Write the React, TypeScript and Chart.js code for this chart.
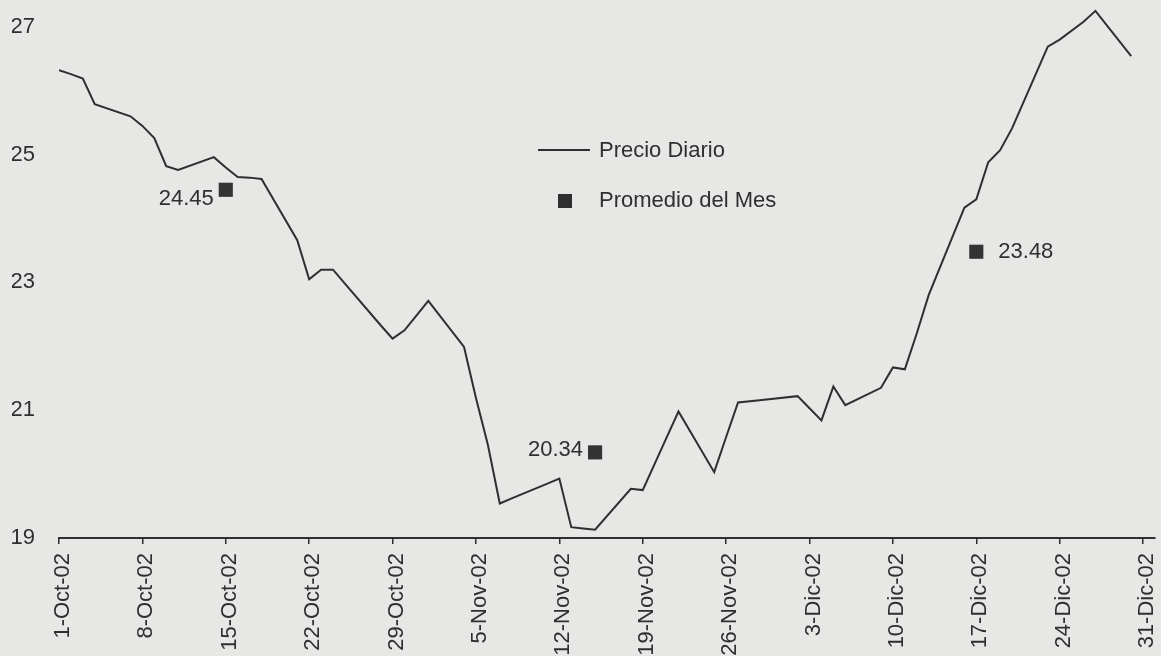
import React, { useEffect, useRef } from 'react';
import { Chart, registerables } from 'chart.js';

Chart.register(...registerables);

// ---- Data ----
const fechas: string[] = [
  '2002-10-01', '2002-10-02', '2002-10-03', '2002-10-04', '2002-10-07', '2002-10-08', '2002-10-09',
  '2002-10-10', '2002-10-11', '2002-10-14', '2002-10-15', '2002-10-16', '2002-10-17', '2002-10-18',
  '2002-10-21', '2002-10-22', '2002-10-23', '2002-10-24', '2002-10-25', '2002-10-28', '2002-10-29',
  '2002-10-30', '2002-10-31', '2002-11-01', '2002-11-04', '2002-11-05', '2002-11-06', '2002-11-07',
  '2002-11-08', '2002-11-11', '2002-11-12', '2002-11-13', '2002-11-14', '2002-11-15', '2002-11-18',
  '2002-11-19', '2002-11-20', '2002-11-21', '2002-11-22', '2002-11-25', '2002-11-26', '2002-11-27',
  '2002-11-29', '2002-12-02', '2002-12-03', '2002-12-04', '2002-12-05', '2002-12-06', '2002-12-09',
  '2002-12-10', '2002-12-11', '2002-12-12', '2002-12-13', '2002-12-16', '2002-12-17', '2002-12-18',
  '2002-12-19', '2002-12-20', '2002-12-23', '2002-12-24', '2002-12-26', '2002-12-27', '2002-12-30',
];

const precioDiario: number[] = [
  26.32, 26.26, 26.19, 25.79, 25.6, 25.45, 25.26,
  24.82, 24.76, 24.96, 24.8, 24.65, 24.64, 24.62,
  23.66, 23.05, 23.2, 23.2, 22.98, 22.33, 22.12,
  22.25, 22.48, 22.71, 21.99, 21.19, 20.46, 19.54,
  19.62, 19.85, 19.93, 19.17, 19.15, 19.13, 19.77,
  19.75, 20.16, 20.57, 20.98, 20.03, 20.58, 21.12,
  21.16, 21.22, 21.03, 20.84, 21.37, 21.08, 21.35,
  21.67, 21.64, 22.2, 22.8, 24.17, 24.3, 24.88,
  25.07, 25.41, 26.69, 26.8, 27.08, 27.25, 26.54,
];

const mesFechas: string[] = ['2002-10-15', '2002-11-15', '2002-12-17'];
const promedioMes: number[] = [24.45, 20.34, 23.48];
const promedioEtiquetas: string[] = ['24.45', '20.34', '23.48'];

const xTickFechas: string[] = [
  '2002-10-01', '2002-10-08', '2002-10-15', '2002-10-22', '2002-10-29', '2002-11-05', '2002-11-12',
  '2002-11-19', '2002-11-26', '2002-12-03', '2002-12-10', '2002-12-17', '2002-12-24', '2002-12-31',
];
const xTickLabels: string[] = [
  '1-Oct-02', '8-Oct-02', '15-Oct-02', '22-Oct-02', '29-Oct-02', '5-Nov-02', '12-Nov-02',
  '19-Nov-02', '26-Nov-02', '3-Dic-02', '10-Dic-02', '17-Dic-02', '24-Dic-02', '31-Dic-02',
];
const yTicks: number[] = [19, 21, 23, 25, 27];
const legendLabels: string[] = ['Precio Diario', 'Promedio del Mes'];

// ---- Styles ----
const BG = '#e7e7e6';
const INK = '#2f2f2f';
const FONT_FAMILY = "'Liberation Sans', Arial, Helvetica, sans-serif";
const FONT_SIZE = 22;

const BASE = Date.UTC(2002, 9, 1);
const dayOf = (s: string) => {
  const [y, m, d] = s.split('-').map(Number);
  return (Date.UTC(y, m - 1, d) - BASE) / 86400000;
};

// label placement for the monthly-average markers (style, not data)
const avgLabelStyle = [
  { align: 'right', dx: -12, dy: 9 },
  { align: 'right', dx: -12, dy: -2 },
  { align: 'left', dx: 22, dy: 0 },
];

const paperPlugin = {
  id: 'paper',
  beforeDraw(chart: any) {
    const { ctx, width, height } = chart;
    ctx.save();
    ctx.fillStyle = BG;
    ctx.fillRect(0, 0, width, height);
    ctx.restore();
  },
};

const annotPlugin = {
  id: 'annot',
  afterDatasetsDraw(chart: any) {
    const { ctx } = chart;
    ctx.save();
    ctx.font = `${FONT_SIZE}px ${FONT_FAMILY}`;
    ctx.fillStyle = INK;
    ctx.textBaseline = 'middle';
    const meta = chart.getDatasetMeta(1);
    meta.data.forEach((pt: any, i: number) => {
      const st = avgLabelStyle[i];
      ctx.textAlign = st.align;
      ctx.fillText(promedioEtiquetas[i], pt.x + st.dx, pt.y + st.dy);
    });
    ctx.textAlign = 'left';
    ctx.strokeStyle = INK;
    ctx.lineWidth = 2;
    ctx.beginPath();
    ctx.moveTo(538, 150);
    ctx.lineTo(590, 150);
    ctx.stroke();
    ctx.fillText(legendLabels[0], 599, 151);
    ctx.fillRect(558, 194, 14, 14);
    ctx.fillText(legendLabels[1], 599, 201);
    ctx.restore();
  },
};

export default function App() {
  const ref = useRef<HTMLCanvasElement | null>(null);

  useEffect(() => {
    if (!ref.current) return;
    Chart.defaults.font.family = FONT_FAMILY;
    Chart.defaults.font.size = FONT_SIZE;
    Chart.defaults.color = INK;

    const lineData = fechas.map((f, i) => ({ x: dayOf(f), y: precioDiario[i] }));
    const avgData = mesFechas.map((f, i) => ({ x: dayOf(f), y: promedioMes[i] }));
    const xTickDays = xTickFechas.map(dayOf);

    const chart = new Chart(ref.current, {
      type: 'line',
      data: {
        datasets: [
          {
            label: legendLabels[0],
            data: lineData,
            borderColor: INK,
            borderWidth: 2,
            pointRadius: 0,
            tension: 0,
            fill: false,
          },
          {
            label: legendLabels[1],
            data: avgData,
            showLine: false,
            pointStyle: 'rect',
            pointRadius: 10,
            pointBackgroundColor: '#333333',
            pointBorderWidth: 0,
            backgroundColor: '#333333',
            borderWidth: 0,
          },
        ],
      },
      options: {
        responsive: false,
        animation: false,
        layout: { autoPadding: false, padding: { left: 12, right: 6, top: 0, bottom: 0 } },
        plugins: {
          legend: { display: false },
          tooltip: { enabled: false },
        },
        scales: {
          x: {
            type: 'linear',
            min: 0,
            max: 92,
            bounds: 'data',
            afterBuildTicks: (scale: any) => {
              scale.ticks = xTickDays.map((v) => ({ value: v }));
            },
            afterFit: (scale: any) => {
              scale.height = 118;
              scale.paddingLeft = 0;
              scale.paddingRight = 0;
              scale.paddingTop = 0;
              scale.paddingBottom = 0;
            },
            ticks: {
              autoSkip: false,
              minRotation: 90,
              maxRotation: 90,
              padding: 9,
              labelOffset: 4,
              color: INK,
              font: { size: FONT_SIZE, family: FONT_FAMILY },
              callback: (_v: any, i: number) => xTickLabels[i],
            },
            grid: {
              display: true,
              drawOnChartArea: false,
              drawTicks: true,
              tickLength: 6,
              color: INK,
              lineWidth: 1.5,
            },
            border: { display: true, color: INK, width: 2 },
          },
          y: {
            type: 'linear',
            min: 19,
            max: 27.42,
            bounds: 'data',
            afterBuildTicks: (scale: any) => {
              scale.ticks = yTicks.map((v) => ({ value: v }));
            },
            afterFit: (scale: any) => {
              scale.width = 47;
              scale.paddingLeft = 0;
              scale.paddingRight = 0;
              scale.paddingTop = 0;
              scale.paddingBottom = 0;
            },
            ticks: {
              padding: 24,
              color: INK,
              font: { size: FONT_SIZE, family: FONT_FAMILY },
              callback: (v: any) => String(v),
            },
            grid: { display: false, drawTicks: false },
            border: { display: false },
          },
        },
      },
      plugins: [paperPlugin, annotPlugin],
    } as any);

    return () => chart.destroy();
  }, []);

  return (
    <div style={{ position: 'fixed', left: 0, top: 0, width: 1161, height: 656, background: BG, overflow: 'hidden' }}>
      <canvas ref={ref} width={1161} height={656} style={{ display: 'block', width: 1161, height: 656 }} />
    </div>
  );
}
